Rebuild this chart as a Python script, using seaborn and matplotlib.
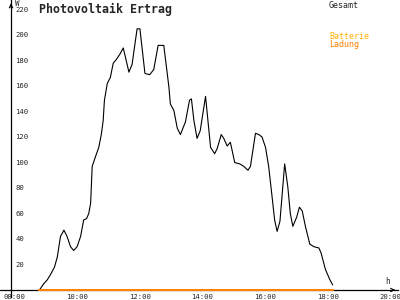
import matplotlib
matplotlib.use("Agg")
import matplotlib.pyplot as plt
import seaborn as sns
import pandas as pd

# ---- data ----
hours = [8.81, 8.95, 9.06, 9.16, 9.29, 9.38, 9.48, 9.59, 9.69, 9.80, 9.90, 10.01,
         10.12, 10.22, 10.31, 10.38, 10.44, 10.49, 10.60, 10.70, 10.78, 10.84, 10.88,
         10.97, 11.07, 11.16, 11.26, 11.37, 11.48, 11.66, 11.76, 11.92, 12.01, 12.17,
         12.32, 12.45, 12.59, 12.77, 12.93, 12.98, 13.09, 13.20, 13.30, 13.46, 13.59,
         13.65, 13.73, 13.83, 13.93, 14.10, 14.26, 14.39, 14.47, 14.60, 14.68, 14.79,
         14.89, 15.03, 15.19, 15.32, 15.45, 15.53, 15.69, 15.80, 15.90, 16.01, 16.11,
         16.22, 16.30, 16.38, 16.47, 16.62, 16.72, 16.80, 16.88, 17.00, 17.09, 17.18,
         17.28, 17.42, 17.55, 17.71, 17.78, 17.92, 18.06, 18.15]
gesamt = [0, 5, 8, 12, 18, 26, 42, 47, 42, 34, 31, 34,
          42, 55, 56, 60, 68, 97, 105, 112, 122, 133, 149,
          162, 167, 178, 181, 185, 190, 171, 177, 205, 205, 170,
          169, 173, 192, 192, 160, 146, 141, 127, 122, 132, 149,
          150, 133, 119, 125, 152, 112, 107, 111, 122, 119, 113,
          116, 100, 99, 97, 94, 97, 123, 122, 120, 112, 97,
          73, 55, 46, 54, 99, 81, 60, 50, 57, 65, 62,
          50, 36, 34, 33, 29, 16, 8, 4]
batterie = [0] * len(hours)
ladung = [0] * len(hours)

x_ticks = [8, 10, 12, 14, 16, 18, 20]
x_labels = ["08:00", "10:00", "12:00", "14:00", "16:00", "18:00", "20:00"]
y_ticks = [20, 40, 60, 80, 100, 120, 140, 160, 180, 200, 220]

df = pd.DataFrame({"h": hours, "Gesamt": gesamt, "Batterie": batterie, "Ladung": ladung})

sns.set_style("white")
plt.rcParams["font.family"] = ["DejaVu Sans Mono", "DejaVu Sans"]

fig = plt.figure(figsize=(4, 3), dpi=100)
ax = fig.add_axes([0, 0, 1, 1])

px_per_h = 31.4
px_per_w = 1.274
x0 = 8 - 14 / px_per_h
x1 = 8 + 386 / px_per_h
y0 = -10 / px_per_w
y1 = 290 / px_per_w
spine_x = 8 - 3 / px_per_h

sns.lineplot(data=df, x="h", y="Gesamt", ax=ax, color="black", linewidth=0.8, zorder=3)
sns.lineplot(data=df, x="h", y="Batterie", ax=ax, color="#ffb000", linewidth=1.4, zorder=4)
sns.lineplot(data=df, x="h", y="Ladung", ax=ax, color="#ff8000", linewidth=1.4, zorder=5)

ax.set_xlim(x0, x1)
ax.set_ylim(y0, y1)
ax.set_xlabel("")
ax.set_ylabel("")

for s in ["top", "right"]:
    ax.spines[s].set_visible(False)
ax.spines["left"].set_position(("data", spine_x))
ax.spines["bottom"].set_position(("data", 0))
for s in ["left", "bottom"]:
    ax.spines[s].set_color("black")
    ax.spines[s].set_linewidth(0.9)
ax.spines["bottom"].set_bounds(x0, 8 + 384 / px_per_h)
ax.spines["left"].set_bounds(y0 + 3 / px_per_w, y1)

ax.set_xticks(x_ticks)
ax.set_xticklabels(x_labels, fontsize=5.2)
ax.set_yticks(y_ticks)
ax.set_yticklabels([])
ax.tick_params(axis="both", direction="inout", length=4.5, width=0.8, color="black")
ax.tick_params(axis="x", pad=0.5)
ax.tick_params(axis="y", pad=0)
for v in y_ticks:
    ax.annotate(str(v), xy=(spine_x, v), xytext=(3, 0), textcoords="offset points",
                ha="left", va="center", fontsize=5.2)

# axis arrows
ax.annotate("", xy=(x1 - 2 / px_per_h, 0), xytext=(x1 - 10 / px_per_h, 0),
            arrowprops=dict(arrowstyle="->", color="black", lw=0.8, mutation_scale=6))
ax.annotate("", xy=(spine_x, y1 - 0.5 / px_per_w), xytext=(spine_x, y1 - 10 / px_per_w),
            arrowprops=dict(arrowstyle="->", color="black", lw=0.8, mutation_scale=6))

# texts
fig.text(39 / 400, 1 - 2.5 / 300, "Photovoltaik Ertrag", ha="left", va="top",
         fontsize=8.4, fontweight="bold")
fig.text(15 / 400, 1 + 1 / 300, "W", ha="left", va="top", fontsize=5.5)
fig.text(385 / 400, 1 - 277 / 300, "h", ha="left", va="top", fontsize=5.5)
fig.text(329 / 400, 1 - 1 / 300, "Gesamt", ha="left", va="top", fontsize=6)
fig.text(329 / 400, 1 - 32 / 300, "Batterie", ha="left", va="top", fontsize=6, color="#ffb000")
fig.text(329 / 400, 1 - 40 / 300, "Ladung", ha="left", va="top", fontsize=6, color="#ff8000")

fig.savefig("out.png", dpi=100)
